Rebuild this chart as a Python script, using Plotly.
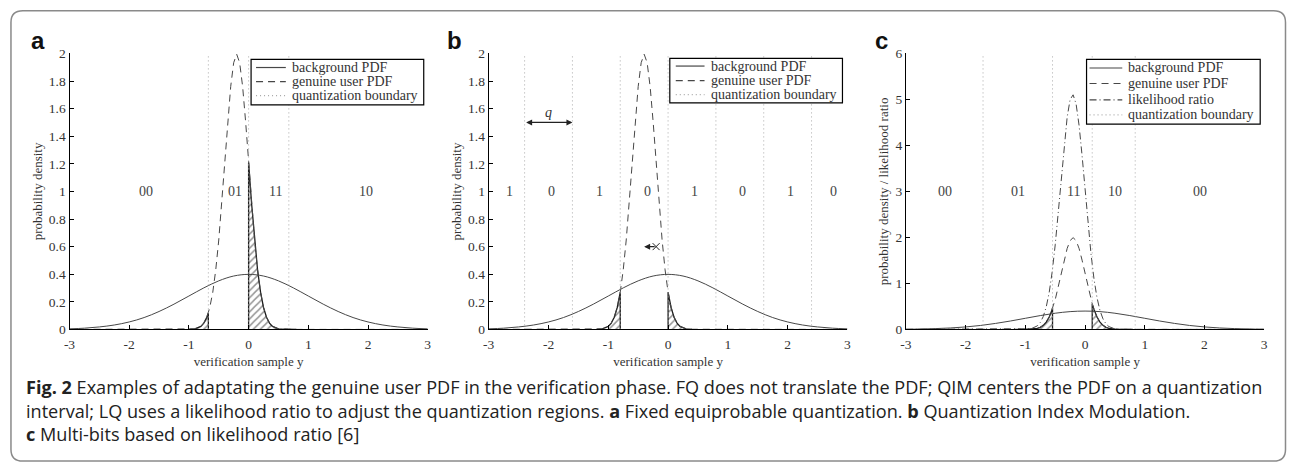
import plotly.graph_objects as go

# ---------------- data ----------------
# background PDF (same in all panels)
bg_x = [-3.0, -2.75, -2.5, -2.25, -2.0, -1.75, -1.5, -1.25, -1.0, -0.75, -0.5, -0.25, 0.0,
        0.25, 0.5, 0.75, 1.0, 1.25, 1.5, 1.75, 2.0, 2.25, 2.5, 2.75, 3.0]
bg_y = [0.004, 0.009, 0.018, 0.032, 0.054, 0.086, 0.130, 0.183, 0.242, 0.301, 0.352, 0.387, 0.399,
        0.387, 0.352, 0.301, 0.242, 0.183, 0.130, 0.086, 0.054, 0.032, 0.018, 0.009, 0.004]

# panel a : genuine user PDF
ga_x = [-3.0, -1.0, -0.9, -0.8, -0.75, -0.7, -0.674, -0.65, -0.6, -0.55, -0.5, -0.45, -0.4, -0.35,
        -0.3, -0.25, -0.2, -0.15, -0.1, -0.05, 0.0, 0.05, 0.1, 0.15, 0.2, 0.25, 0.3, 0.35, 0.4,
        0.5, 0.6, 0.8, 3.0]
ga_y = [0.0, 0.001, 0.004, 0.022, 0.046, 0.088, 0.120, 0.159, 0.270, 0.432, 0.648, 0.913, 1.210, 1.506,
        1.760, 1.933, 1.995, 1.933, 1.760, 1.506, 1.210, 0.913, 0.648, 0.432, 0.270, 0.159, 0.088, 0.046, 0.022,
        0.004, 0.001, 0.0, 0.0]
bounds_a = [-0.674, 0.0, 0.674]
labels_a = ["00", "01", "11", "10"]
labx_a = [-1.72, -0.22, 0.45, 1.96]

# panel b : genuine user PDF (QIM shifted)
gb_x = [-3.0, -1.2, -1.1, -1.0, -0.95, -0.9, -0.85, -0.8, -0.75, -0.7, -0.65, -0.6, -0.55, -0.5,
        -0.45, -0.4, -0.35, -0.3, -0.25, -0.2, -0.15, -0.1, -0.05, 0.0, 0.05, 0.1, 0.15, 0.2,
        0.3, 0.4, 3.0]
gb_y = [0.0, 0.001, 0.004, 0.022, 0.046, 0.088, 0.159, 0.270, 0.432, 0.648, 0.913, 1.210, 1.506, 1.760,
        1.933, 1.995, 1.933, 1.760, 1.506, 1.210, 0.913, 0.648, 0.432, 0.270, 0.159, 0.088, 0.046, 0.022,
        0.004, 0.001, 0.0]
bounds_b = [-2.4, -1.6, -0.8, 0.0, 0.8, 1.6, 2.4]
labels_b = ["1", "0", "1", "0", "1", "0", "1", "0"]
labx_b = [-2.66, -1.95, -1.15, -0.34, 0.45, 1.25, 2.05, 2.76]
q_arrow = [-2.4, -1.6, 1.5]          # from, to, height
shift_arrow = [-0.2, -0.4, 0.6]      # from, to, height

# panel c : genuine user PDF and likelihood ratio
gc_x = [-3.0, -1.0, -0.9, -0.8, -0.75, -0.7, -0.65, -0.6, -0.55, -0.545, -0.5, -0.45, -0.4, -0.35,
        -0.3, -0.25, -0.2, -0.15, -0.1, -0.05, 0.0, 0.05, 0.1, 0.12, 0.15, 0.2, 0.25, 0.3, 0.35, 0.4,
        0.5, 0.6, 0.8, 3.0]
gc_y = [0.0, 0.001, 0.004, 0.022, 0.046, 0.088, 0.159, 0.270, 0.432, 0.470, 0.648, 0.913, 1.210, 1.506,
        1.760, 1.933, 1.995, 1.933, 1.760, 1.506, 1.210, 0.913, 0.648, 0.555, 0.432, 0.270, 0.159, 0.088,
        0.046, 0.022, 0.004, 0.001, 0.0, 0.0]
lr_x = [-3.0, -1.0, -0.9, -0.8, -0.75, -0.7, -0.65, -0.6, -0.55, -0.5, -0.45, -0.4, -0.35, -0.3,
        -0.25, -0.2, -0.15, -0.1, -0.05, 0.0, 0.05, 0.1, 0.15, 0.2, 0.25, 0.3, 0.35, 0.4, 0.5, 0.6, 0.8, 3.0]
lr_y = [0.0, 0.003, 0.016, 0.077, 0.151, 0.281, 0.491, 0.810, 1.258, 1.839, 2.533, 3.285, 4.010, 4.615,
        5.000, 5.101, 4.901, 4.434, 3.779, 3.033, 2.292, 1.632, 1.094, 0.690, 0.410, 0.230, 0.121, 0.060,
        0.012, 0.002, 0.0, 0.0]
bounds_c = [-1.709, -0.545, 0.12, 0.84]
labels_c = ["00", "01", "11", "10", "00"]
labx_c = [-2.345, -1.115, -0.196, 0.497, 1.93]

x_ticks = [-3, -2, -1, 0, 1, 2, 3]
x_ticktext = ["-3", "-2", "-1", "0", "1", "2", "3"]

legend_names_ab = ["background PDF", "genuine user PDF", "quantization boundary"]
legend_names_c = ["background PDF", "genuine user PDF", "likelihood ratio", "quantization boundary"]

caption_lines = [
    "<b>Fig. 2</b> Examples of adaptating the genuine user PDF in the verification phase. FQ does not translate the PDF; QIM centers the PDF on a quantization",
    "interval; LQ uses a likelihood ratio to adjust the quantization regions. <b>a</b> Fixed equiprobable quantization. <b>b</b> Quantization Index Modulation.",
    "<b>c</b> Multi-bits based on likelihood ratio [6]",
]

# ---------------- styling ----------------
SERIF = "Liberation Serif"
SANS = "Open Sans"
LINE = "#474747"
BOUND = "#a8a8a8"
DASH_G = "7px,5px"
DASH_LR = "7px,3px,1px,3px"
DASH_B = "1px,3px"
W, H = 1289, 472


def px_x(p):
    return p / W


def px_y(p):
    return 1 - p / H


fig = go.Figure()

panels = [
    dict(ax="", gx=ga_x, gy=ga_y, bounds=bounds_a, lo=bounds_a[0], hi=bounds_a[1], ymax=2),
    dict(ax="2", gx=gb_x, gy=gb_y, bounds=bounds_b, lo=bounds_b[2], hi=bounds_b[3], ymax=2),
    dict(ax="3", gx=gc_x, gy=gc_y, bounds=bounds_c, lo=bounds_c[1], hi=bounds_c[2], ymax=6),
]

for i, p in enumerate(panels):
    xa, ya = "x" + p["ax"], "y" + p["ax"]
    lo, hi = p["lo"], p["hi"]
    gx, gy = p["gx"], p["gy"]
    # hatched error tails (genuine PDF outside its own quantization interval)
    lx = [x for x in gx if -1.3 <= x <= lo]
    ly = [y for x, y in zip(gx, gy) if -1.3 <= x <= lo]
    rx = [x for x in gx if hi <= x <= 0.8]
    ry = [y for x, y in zip(gx, gy) if hi <= x <= 0.8]
    for tx, ty in ((lx + [lo], ly + [0]), ([hi] + rx, [0] + ry)):
        fig.add_trace(go.Scatter(
            x=tx, y=ty, xaxis=xa, yaxis=ya, mode="lines", fill="tozeroy",
            fillcolor="rgba(0,0,0,0)",
            fillpattern=dict(shape="/", size=5, solidity=0.3, fgcolor="#2a2a2a",
                             bgcolor="rgba(0,0,0,0)"),
            line=dict(color="#1e1e1e", width=1.3), showlegend=False, hoverinfo="skip"))
    # background PDF
    fig.add_trace(go.Scatter(x=bg_x, y=bg_y, xaxis=xa, yaxis=ya, mode="lines",
                             line=dict(color=LINE, width=1, shape="spline"),
                             name="background PDF", showlegend=False))
    # genuine user PDF
    fig.add_trace(go.Scatter(x=gx, y=gy, xaxis=xa, yaxis=ya, mode="lines",
                             line=dict(color=LINE, width=1, dash=DASH_G),
                             name="genuine user PDF", showlegend=False))
    if i == 2:
        fig.add_trace(go.Scatter(x=lr_x, y=lr_y, xaxis=xa, yaxis=ya, mode="lines",
                                 line=dict(color=LINE, width=1, dash=DASH_LR),
                                 name="likelihood ratio", showlegend=False))
    # quantization boundaries
    bx, by = [], []
    for b in p["bounds"]:
        bx += [b, b, None]
        by += [0, p["ymax"], None]
    fig.add_trace(go.Scatter(x=bx, y=by, xaxis=xa, yaxis=ya, mode="lines",
                             line=dict(color=BOUND, width=1, dash=DASH_B),
                             name="quantization boundary", showlegend=False))

# shift marker in panel b
fig.add_trace(go.Scatter(x=[shift_arrow[0]], y=[shift_arrow[2]], xaxis="x2", yaxis="y2",
                         mode="markers", marker=dict(symbol="x-thin", size=7,
                                                     line=dict(color="#222", width=1)),
                         showlegend=False, hoverinfo="skip"))

# ---------------- axes ----------------
xdoms = [(64, 425), (486.5, 848), (907, 1268)]
ydom = [px_y(333), px_y(48)]
ytitles = ["probability density", "probability density", "probability density / likelihood ratio"]
layout = dict(
    width=W, height=H, margin=dict(l=0, r=0, t=0, b=0),
    paper_bgcolor="white", plot_bgcolor="white", showlegend=False,
    font=dict(family=SERIF, size=12, color="#333"),
)
for i, p in enumerate(panels):
    sfx = p["ax"]
    layout["xaxis" + sfx] = dict(
        domain=[px_x(xdoms[i][0]), px_x(xdoms[i][1])], anchor="y" + sfx,
        range=[-3, 3], tickvals=x_ticks, ticktext=x_ticktext,
        showline=True, linecolor="black", linewidth=1.2,
        ticks="inside", ticklen=4, tickcolor="black", showgrid=False, zeroline=False,
        ticklabelstandoff=2,
        tickfont=dict(family=SERIF, size=13.5, color="#333"),
        title=dict(text="verification sample y", font=dict(family=SERIF, size=13, color="#333"),
                   standoff=6))
    layout["yaxis" + sfx] = dict(
        domain=ydom, anchor="x" + sfx,
        range=[0, p["ymax"]], dtick=0.2 if p["ymax"] == 2 else 1,
        showline=True, linecolor="black", linewidth=1.2,
        ticks="inside", ticklen=4, tickcolor="black", showgrid=False, zeroline=False,
        tickfont=dict(family=SERIF, size=13.5, color="#333"),
        title=dict(text=ytitles[i], font=dict(family=SERIF, size=13, color="#333"), standoff=3))

annotations = []
shapes = []

# ---------------- hand-placed legends (compact MATLAB style) ----------------
legend_boxes = [
    dict(box=(247, 54, 421, 101), sx=(252, 282), tx=286, rows=(62.5, 77, 91.5), names=legend_names_ab,
         styles=[(LINE, None), (LINE, DASH_G), (BOUND, DASH_B)]),
    dict(box=(669, 53, 843, 99), sx=(675, 704), tx=708, rows=(61, 76, 90.5), names=legend_names_ab,
         styles=[(LINE, None), (LINE, DASH_G), (BOUND, DASH_B)]),
    dict(box=(1089, 54, 1264, 121), sx=(1092, 1125), tx=1129, rows=(63, 79, 96, 111.5), names=legend_names_c,
         styles=[(LINE, None), (LINE, DASH_G), (LINE, DASH_LR), (BOUND, DASH_B)]),
]
for lg in legend_boxes:
    bx0, by0, bx1, by1 = lg["box"]
    shapes.append(dict(type="rect", xref="paper", yref="paper", x0=px_x(bx0), x1=px_x(bx1),
                       y0=px_y(by1), y1=px_y(by0), line=dict(color="black", width=1.2),
                       fillcolor="white", layer="above"))
    for name, row, (col, dash) in zip(lg["names"], lg["rows"], lg["styles"]):
        ln = dict(color=col, width=1.2)
        if dash:
            ln["dash"] = dash
        shapes.append(dict(type="line", xref="paper", yref="paper", x0=px_x(lg["sx"][0]),
                           x1=px_x(lg["sx"][1]), y0=px_y(row), y1=px_y(row), line=ln, layer="above"))
        annotations.append(dict(x=px_x(lg["tx"]), y=px_y(row), xref="paper", yref="paper", text=name,
                                xanchor="left", yanchor="middle", showarrow=False,
                                font=dict(family=SERIF, size=14, color="#333")))

# region labels
for labs, xs, sfx, yv in ((labels_a, labx_a, "", 1), (labels_b, labx_b, "2", 1), (labels_c, labx_c, "3", 3)):
    for t, x in zip(labs, xs):
        annotations.append(dict(x=x, y=yv, xref="x" + sfx, yref="y" + sfx, text=t, showarrow=False,
                                xanchor="center", yanchor="middle",
                                font=dict(family=SERIF, size=14, color="#444")))

# q arrow
annotations.append(dict(x=q_arrow[1], y=q_arrow[2], ax=q_arrow[0], ay=q_arrow[2], xref="x2", yref="y2",
                        axref="x2", ayref="y2", text="", showarrow=True, arrowside="end+start",
                        arrowhead=2, arrowsize=1, arrowwidth=1.2, arrowcolor="#222"))
annotations.append(dict(x=(q_arrow[0] + q_arrow[1]) / 2, y=q_arrow[2], xref="x2", yref="y2",
                        text="<i>q</i>", showarrow=False, yshift=10, xanchor="center", yanchor="middle",
                        font=dict(family=SERIF, size=14, color="#333")))
annotations.append(dict(x=shift_arrow[1], y=shift_arrow[2], ax=shift_arrow[0], ay=shift_arrow[2],
                        xref="x2", yref="y2", axref="x2", ayref="y2", text="", showarrow=True,
                        arrowhead=2, arrowsize=1, arrowwidth=1.2, arrowcolor="#222"))

# panel letters
for letter, xp in (("a", 32), ("b", 452), ("c", 882)):
    annotations.append(dict(x=px_x(xp), y=px_y(35), xref="paper", yref="paper", text="<b>%s</b>" % letter,
                            xanchor="center", yanchor="middle", showarrow=False,
                            font=dict(family="Liberation Sans", size=24, color="#111")))

# caption (one multi-line text block)
annotations.append(dict(x=px_x(18), y=px_y(417), xref="paper", yref="paper",
                        text="<br>".join(caption_lines),
                        xanchor="left", yanchor="middle", showarrow=False, align="left",
                        font=dict(family=SANS, size=18.1, color="#222")))

# rounded frame (right edge sits at the very border of the picture)
x0, y0, x1, y1, r = px_x(5), px_y(4), px_x(1289.5), px_y(469), 12
rx, ry = r / W, r / H
path = (f"M {x0+rx} {y0} L {x1-rx} {y0} Q {x1} {y0} {x1} {y0-ry} L {x1} {y1+ry} "
        f"Q {x1} {y1} {x1-rx} {y1} L {x0+rx} {y1} Q {x0} {y1} {x0} {y1+ry} "
        f"L {x0} {y0-ry} Q {x0} {y0} {x0+rx} {y0} Z")
shapes.append(dict(type="path", path=path, xref="paper", yref="paper",
                   line=dict(color="#8a8a8a", width=1.5), layer="below"))

layout["annotations"] = annotations
layout["shapes"] = shapes

fig.update_layout(**layout)
fig.write_html("out.html", config={"displayModeBar": False},
               post_script="document.body.style.margin='0px';document.body.style.overflow='hidden';")
